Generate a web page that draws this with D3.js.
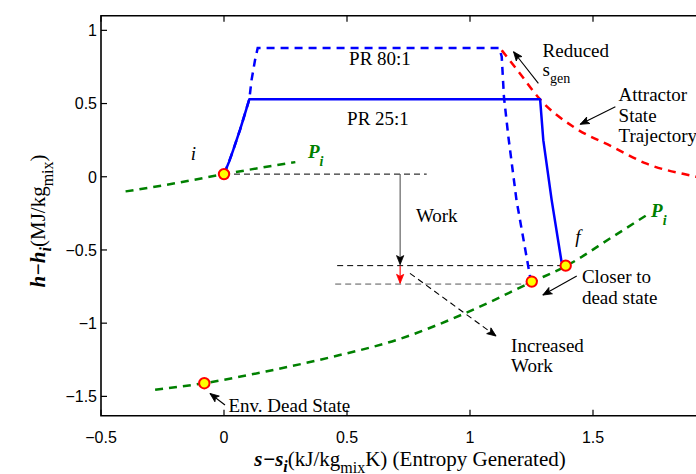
<!DOCTYPE html>
<html>
<head>
<meta charset="utf-8">
<script src="https://cdn.jsdelivr.net/npm/d3@7"></script>
<style>
  body { margin: 0; background: #fff; }
  svg { display: block; }
  .tick-label { font-family: 'Liberation Sans', Arial, sans-serif; font-size: 16px; fill: #000; }
  .note { font-family: 'Liberation Serif', 'Times New Roman', serif; font-size: 19px; fill: #000; }
  .axis-title { font-family: 'Liberation Serif', 'Times New Roman', serif; font-size: 21px; fill: #000; }
</style>
</head>
<body>
<div id="chart"></div>
<script>
'use strict';

// x = s - s_i (kJ/kg K), y = h - h_i (MJ/kg)
const xTicks = [-0.5, 0, 0.5, 1, 1.5];
const yTicks = [-1.5, -1, -0.5, 0, 0.5, 1];

const pr25Path = [[0, 0.018], [0.02, 0.1], [0.037, 0.18], [0.065, 0.32], [0.085, 0.43], [0.103, 0.53],
  [1.285, 0.53], [1.298, 0.25], [1.332, -0.16], [1.372, -0.58], [1.389, -0.607]];
const pr80Path = [[0, 0.018], [0.02, 0.1], [0.037, 0.18], [0.065, 0.32], [0.085, 0.43], [0.103, 0.53],
  [0.112, 0.66], [0.126, 0.795], [0.137, 0.88], [1.119, 0.88], [1.129, 0.82], [1.138, 0.545],
  [1.156, 0.273], [1.189, -0.16], [1.244, -0.68], [1.251, -0.716]];
const attractorPath = [[1.129, 0.864], [1.203, 0.705], [1.285, 0.528], [1.42, 0.341], [1.58, 0.204],
  [1.715, 0.091], [1.92, 0.0], [2.0, -0.03]];
const isobarInitial = [[-0.4, -0.1], [-0.2, -0.045], [0, 0.018], [0.29, 0.1]];
const isobarDead = [[-0.28, -1.455], [-0.08, -1.41], [0.17, -1.33], [0.44, -1.23], [0.71, -1.11],
  [0.97, -0.94], [1.25, -0.72], [1.39, -0.61], [1.58, -0.41], [1.72, -0.26]];

const statePoints = [[0, 0.018], [-0.08, -1.41], [1.389, -0.607], [1.251, -0.716]];

const guideLines = [
  [[0, 0.018], [0.824, 0.018], '#000'],
  [[0.46, -0.607], [1.389, -0.607], '#000'],
  [[0.452, -0.733], [1.251, -0.733], '#555']
];

// [from, to, line colour, head colour, dashed]
const arrows = [
  [[0.716, 0.018], [0.716, -0.6], '#555', '#000', false],
  [[0.716, -0.607], [0.716, -0.728], '#f00', '#f00', false],
  [[0.756, -0.66], [1.106, -1.088], '#000', '#000', true],
  [[1.278, 0.638], [1.177, 0.854], '#000', '#000', false],
  [[1.591, 0.478], [1.448, 0.358], '#000', '#000', false],
  [[1.434, -0.678], [1.296, -0.808], '#000', '#000', false],
  [[0.004, -1.559], [-0.057, -1.48], '#000', '#000', false]
];

// [x, y, lines, anchor]
const notes = [
  [0.634, 0.762, ['PR 80:1'], 'middle'],
  [0.626, 0.352, ['PR 25:1'], 'middle'],
  [0.78, -0.31, ['Work'], 'start'],
  [1.295, 0.815, ['Reduced'], 'start'],
  [1.604, 0.517, ['Attractor', 'State', 'Trajectory'], 'start'],
  [1.455, -0.728, ['Closer to', 'dead state'], 'start'],
  [1.167, -1.195, ['Increased', 'Work'], 'start'],
  [0.018, -1.605, ['Env. Dead State'], 'start']
];

const width = 696;
const height = 474;

const x = d3.scaleLinear().domain([-0.5, 2]).range([101, 716]);
const y = d3.scaleLinear().domain([-1.632, 1.1]).range([415.7, 15.7]);

const svg = d3.select('#chart').append('svg')
  .attr('width', width)
  .attr('height', height);

const defs = svg.append('defs');
['#000', '#f00'].forEach((c, i) => {
  defs.append('marker')
    .attr('id', 'head' + i)
    .attr('viewBox', '-10 -5 12 10')
    .attr('refX', 0)
    .attr('refY', 0)
    .attr('markerWidth', 12)
    .attr('markerHeight', 10)
    .attr('markerUnits', 'userSpaceOnUse')
    .attr('orient', 'auto')
    .append('path')
      .attr('d', 'M0,0 L-9,-3.6 L-7,0 L-9,3.6 Z')
      .attr('fill', c)
      .attr('stroke', c)
      .attr('stroke-width', 0.8);
});

const line = d3.line().x(d => x(d[0])).y(d => y(d[1]));
const smooth = d3.line().x(d => x(d[0])).y(d => y(d[1])).curve(d3.curveMonotoneX);

// guides
guideLines.forEach(g => {
  svg.append('path')
    .attr('d', line([g[0], g[1]]))
    .attr('fill', 'none')
    .attr('stroke', g[2])
    .attr('stroke-width', 1)
    .attr('stroke-dasharray', '6,4');
});

[isobarInitial, isobarDead].forEach(p => {
  svg.append('path')
    .attr('d', smooth(p))
    .attr('fill', 'none')
    .attr('stroke', '#008000')
    .attr('stroke-width', 2.5)
    .attr('stroke-dasharray', '8,6');
});

svg.append('path')
  .attr('d', smooth(attractorPath))
  .attr('fill', 'none')
  .attr('stroke', '#f00')
  .attr('stroke-width', 2.5)
  .attr('stroke-dasharray', '8,6');

svg.append('path')
  .attr('d', line(pr80Path))
  .attr('fill', 'none')
  .attr('stroke', '#00f')
  .attr('stroke-width', 2.5)
  .attr('stroke-dasharray', '8,6');

svg.append('path')
  .attr('d', line(pr25Path))
  .attr('fill', 'none')
  .attr('stroke', '#00f')
  .attr('stroke-width', 2.5)
  .attr('stroke-linejoin', 'round');

// arrows
arrows.forEach(a => {
  svg.append('path')
    .attr('d', line([a[0], a[1]]))
    .attr('fill', 'none')
    .attr('stroke', a[2])
    .attr('stroke-width', 1.1)
    .attr('stroke-dasharray', a[4] ? '6,4' : null)
    .attr('marker-end', a[3] === '#f00' ? 'url(#head1)' : 'url(#head0)');
});

svg.selectAll('circle.state')
  .data(statePoints)
  .enter()
  .append('circle')
    .attr('class', 'state')
    .attr('cx', d => x(d[0]))
    .attr('cy', d => y(d[1]))
    .attr('r', 5.2)
    .attr('fill', '#ff0')
    .attr('stroke', '#f00')
    .attr('stroke-width', 2);

// text notes
notes.forEach(n => {
  const t = svg.append('text')
    .attr('class', 'note')
    .attr('text-anchor', n[3]);
  n[2].forEach((s, i) => {
    t.append('tspan')
      .attr('x', x(n[0]))
      .attr('y', y(n[1]) + i * 20.7)
      .text(s);
  });
});

const sgen = svg.append('text').attr('class', 'note')
  .attr('x', x(1.295)).attr('y', y(0.69));
sgen.append('tspan').text('s');
sgen.append('tspan').attr('dy', 7).attr('font-size', 14).text('gen');

svg.append('text').attr('class', 'note')
  .attr('x', x(-0.135)).attr('y', y(0.114))
  .attr('font-style', 'italic')
  .text('i');
svg.append('text').attr('class', 'note')
  .attr('x', x(1.428)).attr('y', y(-0.455))
  .attr('font-style', 'italic')
  .text('f');

[[0.341, 0.125], [1.736, -0.273]].forEach(p => {
  const t = svg.append('text').attr('class', 'note')
    .attr('x', x(p[0])).attr('y', y(p[1]))
    .style('fill', '#008000')
    .attr('font-weight', 'bold')
    .attr('font-style', 'italic');
  t.append('tspan').text('P');
  t.append('tspan').attr('dy', 8).attr('font-size', 14).text('i');
});

// axes frame
const x0 = x(-0.5);
const yTop = y(1.1);
const yBot = y(-1.632);
svg.append('path')
  .attr('d', `M${x(2.1)},${yTop} H${x0} V${yBot} H${x(2.1)}`)
  .attr('fill', 'none')
  .attr('stroke', '#000')
  .attr('stroke-width', 1.6);

xTicks.forEach(t => {
  svg.append('line')
    .attr('x1', x(t)).attr('x2', x(t))
    .attr('y1', yBot).attr('y2', yBot - 6)
    .attr('stroke', '#000').attr('stroke-width', 1.2);
  svg.append('line')
    .attr('x1', x(t)).attr('x2', x(t))
    .attr('y1', yTop).attr('y2', yTop + 6)
    .attr('stroke', '#000').attr('stroke-width', 1.2);
  svg.append('text')
    .attr('class', 'tick-label')
    .attr('x', x(t))
    .attr('y', yBot + 27.5)
    .attr('text-anchor', 'middle')
    .text(d3.format('')(t).replace('-', '\u2212'));
});

yTicks.forEach(t => {
  svg.append('line')
    .attr('x1', x0).attr('x2', x0 + 6)
    .attr('y1', y(t)).attr('y2', y(t))
    .attr('stroke', '#000').attr('stroke-width', 1.2);
  svg.append('text')
    .attr('class', 'tick-label')
    .attr('x', x0 - 4)
    .attr('y', y(t))
    .attr('dy', '0.36em')
    .attr('text-anchor', 'end')
    .text(d3.format('')(t).replace('-', '\u2212'));
});

// axis titles
const xt = svg.append('text')
  .attr('class', 'axis-title')
  .attr('x', 410)
  .attr('y', 465.5)
  .attr('text-anchor', 'middle');
xt.append('tspan').attr('font-weight', 'bold').attr('font-style', 'italic').text('s\u2212s');
xt.append('tspan').attr('font-weight', 'bold').attr('font-style', 'italic')
  .attr('font-size', 16).attr('dy', 6).text('i');
xt.append('tspan').attr('dy', -6).text('(kJ/kg');
xt.append('tspan').attr('font-size', 16).attr('dy', 7).text('mix');
xt.append('tspan').attr('dy', -7).text('K) (Entropy Generated)');

const yt = svg.append('text')
  .attr('class', 'axis-title')
  .attr('transform', 'translate(45,221) rotate(-90)')
  .attr('text-anchor', 'middle');
yt.append('tspan').attr('font-weight', 'bold').attr('font-style', 'italic').text('h\u2212h');
yt.append('tspan').attr('font-weight', 'bold').attr('font-style', 'italic')
  .attr('font-size', 16).attr('dy', 6).text('i');
yt.append('tspan').attr('dy', -6).text('(MJ/kg');
yt.append('tspan').attr('font-size', 16).attr('dy', 8).text('mix');
yt.append('tspan').attr('dy', -8).text(')');
</script>
</body>
</html>
